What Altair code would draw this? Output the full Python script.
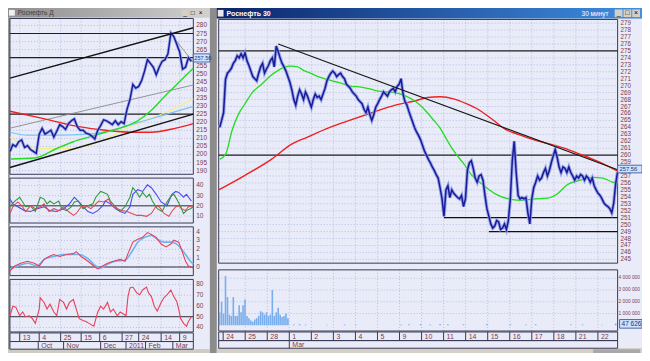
import altair as alt
import pandas as pd
import numpy as np

# ======================= DATA =======================
# ---- right window: Роснефть, 30-minute bars (bar index 0..204) ----
R_PRICE = [264.0, 265.0, 266.1, 270.9, 271.8, 272.1, 272.5, 273.2, 273.6, 274.3,
           274.0, 274.6, 274.0, 274.7, 273.6, 272.9, 272.1, 271.3, 271.0, 270.7,
           271.8, 272.7, 273.2, 271.8, 272.4, 272.9, 273.6, 274.0, 272.7, 275.7,
           274.9, 274.0, 273.2, 272.7, 272.1, 271.3, 270.5, 269.4, 268.0, 267.2,
           268.5, 269.4, 268.8, 268.0, 269.1, 268.5, 267.7, 266.9, 268.0, 268.8,
           268.3, 268.5, 268.0, 268.8, 269.6, 270.7, 271.3, 271.8, 272.1, 271.8,
           271.3, 271.6, 271.8, 271.3, 271.0, 270.2, 269.9, 269.6, 269.1, 268.8,
           268.5, 268.0, 267.7, 267.4, 266.6, 266.1, 266.9, 265.8, 265.0, 265.8,
           266.9, 267.4, 268.0, 268.5, 269.1, 268.8, 268.5, 269.1, 269.4, 269.6,
           269.1, 269.9, 270.2, 271.0, 268.8, 267.7, 267.2, 266.3, 265.5, 264.7,
           263.9, 263.3, 262.8, 262.2, 261.4, 260.6, 260.0, 259.4, 258.9, 258.3,
           257.8, 257.2, 256.7, 255.3, 253.7, 251.2, 255.0, 255.6, 253.9, 255.0,
           254.5, 254.2, 253.9, 253.7, 254.2, 252.6, 253.7, 257.8, 258.9, 259.2,
           258.1, 256.7, 256.1, 257.0, 257.2, 256.4, 254.2, 252.3, 251.2, 250.1,
           249.5, 249.8, 250.6, 250.4, 249.3, 249.5, 250.1, 249.3, 250.6, 253.7,
           259.2, 262.0, 257.5, 254.2, 253.7, 253.9, 253.7, 253.9, 251.7, 250.1,
           253.7, 255.3, 256.1, 257.0, 256.4, 256.7, 257.5, 258.1, 257.0, 257.8,
           258.9, 259.9, 260.8, 259.7, 258.3, 257.5, 258.3, 258.1, 257.5, 258.3,
           257.5, 257.0, 256.4, 257.0, 256.7, 257.2, 257.0, 256.4, 257.0, 256.7,
           256.1, 256.7, 255.6, 255.0, 254.5, 254.2, 253.7, 253.1, 252.8, 252.6,
           252.3, 251.7, 253.1, 255.9, 257.6]
R_GREEN_BAR = [0, 3, 6.5, 9.5, 13, 17, 21.5, 25.5, 30, 33.5, 36.5, 40, 43, 46.5, 50.5,
               55, 59, 63, 67.5, 72.5, 77.5, 81.5, 86.5, 91.5, 95.5, 100, 103.5, 106.5,
               109.5, 113, 116.5, 120, 125, 129, 135, 141.5, 148, 154, 161.5, 168, 173,
               178, 185, 191.5, 196.5, 201.5, 204]
R_GREEN = [259.4, 260.1, 263.7, 265.8, 267.4, 269.1, 270.2, 271.3, 272.2, 272.7, 272.8,
           272.7, 272.2, 271.8, 271.3, 270.9, 270.6, 270.3, 269.9, 269.8, 269.5, 269.2,
           269.1, 268.9, 268.5, 267.8, 267.0, 266.1, 265.1, 263.9, 262.2, 260.6, 258.8,
           257.2, 255.7, 254.4, 253.7, 253.5, 253.7, 253.8, 254.4, 255.7, 256.4, 256.8,
           256.7, 256.1, 256.0]
R_RED_BAR = [-0.5, 13, 26.5, 36.5, 45, 56.5, 66.5, 78, 90, 100, 106.5, 113, 120, 126.5,
             133, 140, 146.5, 153, 160, 168, 176.5, 185, 193, 204]
R_RED = [255.0, 257.1, 259.4, 261.5, 262.6, 264.0, 265.0, 266.1, 267.2, 267.8, 268.3,
         268.4, 268.1, 267.4, 266.5, 265.1, 263.7, 263.0, 262.3, 261.7, 261.0, 260.1,
         259.2, 257.7]
R_TREND_BAR = [30, 204]
R_TREND = [276.0, 257.9]
R_LEVELS = [275, 260]
R_SUPPORT = [251, 249]
R_SUPPORT_FROM = [115, 138]
R_SUPPORT_TO = [204, 204]
R_VOL_HEAD = [1.1, 2.0, 1.0, 4.2, 2.4, 0.9, 0.8, 2.4, 0.8, 0.8,
              1.7, 1.1, 1.7, 2.2, 0.8, 0.6, 0.4, 0.3, 0.5, 0.6,
              0.8, 1.2, 1.1, 0.9, 1.1, 0.8, 0.9, 3.0, 0.8, 1.1,
              1.5, 0.9, 0.7, 0.8, 1.0, 0.6]          # millions, bars 0..35
R_VOL_TAIL_BAR = [38, 41, 44, 55, 64, 70, 93, 97, 103, 108, 113, 117, 125, 137, 149,
                  157, 162, 180, 186, 196, 203]
R_VOL_TAIL = [0.08, 0.10, 0.06, 0.05, 0.07, 0.05, 0.06, 0.08, 0.10, 0.07, 0.12, 0.08,
              0.09, 0.10, 0.08, 0.07, 0.09, 0.06, 0.07, 0.05, 0.15]
R_DAYS = ["24", "25", "28", "1", "2", "3", "4", "5", "9", "10", "11", "14", "15", "16",
          "17", "18", "21", "22"]
R_DAY_BAR = [1.8, 13.1, 24.4, 35.7, 47.0, 58.3, 69.6, 80.9, 92.2, 103.5, 114.8, 126.1,
             137.4, 148.7, 160.0, 171.3, 182.6, 193.9]
R_MONTH = ["Mar"]
R_MONTH_BAR = [35.7]
R_YTICKS = list(range(245, 280))
R_YLABELED = [v for v in R_YTICKS if v != 258]     # 258 sits under the last-price box
R_VTICKS = [1, 2, 3, 4]
R_VLABELS = ["1 000 000", "2 000 000", "3 000 000", "4 000 000"]
LAST_PRICE = "257.56"
LAST_VOL = "47 626"

# ---- left window: daily (position = trading-day slot 0..188) ----
L_PRICE_POS = list(range(0, 189, 3))
L_PRICE = [201.9, 206.1, 204.9, 207.9, 209.0, 204.3, 205.5, 203.1, 201.9, 200.7,
           212.6, 216.2, 212.6, 213.8, 215.0, 210.8, 214.4, 218.5, 217.3, 215.6,
           219.1, 220.9, 222.1, 217.3, 215.0, 215.0, 213.2, 212.6, 211.4, 209.6,
           215.0, 217.9, 221.5, 220.9, 219.7, 218.5, 220.9, 218.5, 220.3, 219.1,
           228.0, 233.9, 243.4, 241.1, 242.2, 245.8, 251.7, 258.8, 256.5, 254.1,
           249.4, 254.1, 257.7, 258.8, 262.4, 275.4, 273.1, 268.3, 263.6, 252.9,
           254.1, 260.0, 257.7]
L_RED_POS = [0, 31, 65, 98, 125, 145, 165, 188]
L_RED = [226.8, 222.7, 217.9, 215.0, 213.8, 213.8, 215.6, 219.1]
L_YEL_POS = [0, 8, 31, 65, 98, 118, 141, 165, 188]
L_YEL = [210.8, 207.9, 203.7, 203.7, 209.6, 215.6, 221.5, 227.4, 234.5]
L_CYAN_POS = [0, 18, 48, 81, 108, 131, 155, 188]
L_CYAN = [213.8, 212.0, 212.0, 212.6, 215.6, 219.7, 223.9, 229.8]
L_GREEN_POS = [1, 25, 48, 65, 81, 98, 115, 131, 145, 158, 171, 181, 188]
L_GREEN = [197.2, 197.8, 203.7, 207.9, 210.8, 213.8, 216.8, 220.9, 227.4, 235.7, 243.4,
           249.4, 253.5]
L_CH_POS = [0, 188]
L_CH_UP = [247.3, 278.6]
L_CH_LO = [191.9, 225.0]
L_CH_MID = [216.3, 243.1]
L_PK_POS = [165, 188]
L_PK = [274.8, 257.1]
L_LEVELS = [275, 260, 225]
L_ATICKS = list(range(190, 285, 5))
L_ALABELED = [v for v in L_ATICKS if v != 260]     # 260 sits under the last-price box

B_BLUE_POS = [0, 3, 8, 15, 21, 28, 35, 41, 48, 55, 61, 66, 70, 75, 80, 85, 90, 95, 98, 103,
              108, 113, 118, 123, 126, 131, 136, 141, 145, 150, 155, 161, 166, 170, 173,
              178, 181, 186]
B_BLUE = [26.6, 21.9, 19.1, 15.3, 14.4, 17.2, 19.1, 15.3, 14.4, 17.2, 21.9, 28.4, 24.7,
          19.1, 14.4, 12.5, 15.3, 20.0, 24.7, 21.9, 17.2, 14.4, 12.5, 19.1, 31.3, 35.9,
          34.1, 40.6, 37.8, 31.3, 23.8, 20.0, 31.3, 34.1, 33.1, 28.4, 31.3, 24.7]
B_GREEN_POS = [0, 5, 10, 13, 16, 21, 26, 31, 35, 38, 41, 45, 50, 53, 58, 63, 66, 70, 75, 80,
               85, 88, 93, 96, 100, 103, 108, 113, 118, 123, 126, 130, 133, 136, 140, 143,
               146, 151, 156, 161, 165, 168, 171, 175, 178, 181, 185, 188]
B_GREEN = [19.1, 24.7, 28.4, 23.8, 19.1, 20.0, 14.4, 28.4, 26.6, 21.9, 24.7, 21.9, 24.7,
           17.2, 15.3, 19.1, 23.8, 24.7, 17.2, 20.0, 21.9, 28.4, 34.1, 33.1, 31.3, 24.7,
           19.1, 14.4, 19.1, 28.4, 37.8, 33.1, 28.4, 33.1, 28.4, 31.3, 24.7, 17.2, 14.4,
           23.8, 29.4, 31.3, 26.6, 19.1, 12.5, 15.3, 17.2, 19.1]
B_RED_POS = [0, 3, 8, 13, 16, 21, 26, 31, 35, 40, 45, 50, 55, 60, 65, 68, 73, 78, 83, 86,
             91, 96, 101, 105, 110, 115, 120, 125, 130, 135, 140, 145, 150, 153, 158, 163,
             166, 170, 173, 176, 180, 183, 188]
B_RED = [12.5, 19.1, 23.8, 19.1, 14.4, 20.0, 17.2, 19.1, 21.9, 14.4, 17.2, 15.3, 19.1,
         14.4, 10.6, 12.5, 19.1, 20.0, 17.2, 20.0, 24.7, 23.8, 26.6, 20.0, 17.2, 15.3,
         14.4, 12.5, 10.6, 10.6, 9.7, 12.5, 20.0, 19.1, 12.5, 9.7, 14.4, 19.1, 20.0, 17.2,
         15.3, 19.1, 20.0]
B_TICKS = [10, 20, 30, 40]

C_RED_POS = [0, 5, 11, 18, 25, 30, 35, 40, 45, 51, 58, 65, 68, 73, 80, 86, 90, 95, 100,
             106, 113, 118, 121, 126, 131, 136, 141, 145, 150, 155, 160, 165, 168, 173,
             176, 180, 183, 188]
C_RED = [-0.43, 0.11, 0.43, 0.65, 0.43, 0.11, 0.86, 1.19, 1.41, 1.19, 1.41, 1.51, 1.73,
         1.19, 0.65, 0.11, -0.22, 0.11, 0.43, 0.65, 0.86, 0.65, 1.51, 2.81, 3.14, 3.35,
         3.89, 3.68, 3.35, 2.59, 2.27, 2.59, 3.03, 2.81, 1.95, 0.65, 0.11, -0.11]
C_BLUE_POS = [0, 8, 18, 28, 35, 45, 55, 65, 71, 81, 88, 93, 100, 108, 118, 125, 131, 138,
              145, 151, 158, 165, 171, 178, 185, 188]
C_BLUE = [-0.22, 0.11, 0.43, 0.11, 0.86, 1.19, 1.41, 1.41, 1.41, 0.86, 0.11, -0.11, 0.32,
          0.65, 0.76, 1.73, 2.81, 3.35, 3.57, 3.14, 2.81, 2.81, 2.59, 1.73, 0.65, 0.32]
C_TICKS = [0, 1, 2, 3, 4]

D_RED_POS = [0, 3, 6, 10, 13, 16, 20, 23, 26, 30, 31, 35, 38, 41, 45, 48, 51, 55, 58, 61,
             65, 68, 71, 75, 78, 81, 86, 90, 93, 96, 100, 103, 106, 110, 113, 116, 119,
             121, 123, 126, 130, 133, 136, 140, 142, 145, 148, 151, 155, 158, 161, 165,
             168, 171, 173, 175, 178, 181, 183, 186]
D_RED = [50.9, 59.8, 58.9, 50.9, 54.4, 50.0, 50.9, 48.2, 43.8, 57.1,
         67.8, 63.3, 57.1, 61.6, 54.4, 50.9, 66.0, 63.3, 57.1, 63.3,
         66.0, 57.1, 48.2, 46.4, 45.6, 43.8, 41.1, 54.4, 59.8, 57.1,
         63.3, 54.4, 57.1, 50.9, 54.4, 52.7, 50.9, 68.7, 76.7, 77.6,
         72.2, 70.4, 74.9, 77.6, 72.2, 68.7, 59.8, 55.3, 63.3, 67.8,
         70.4, 74.9, 68.7, 64.2, 57.1, 48.2, 43.8, 41.1, 45.6, 50.0]
D_TICKS = [40, 50, 60, 70, 80]

L_DAYS = ["13", "4", "25", "15", "6", "27", "24", "14", "9"]
L_DAY_POS = [10, 30, 52, 73, 92, 115, 132, 155, 174]
L_MONTHS = ["Oct", "Nov", "Dec", "2011", "Feb", "Mar"]
L_MONTH_POS = [29, 55, 93, 119, 139, 167]

# ======================= LAYOUT =======================
W, H = 634, 345
SX, SY = W / 650.0, H / 361.0
def px(x): return round(x * SX, 2)
def py(y): return round(y * SY, 2)

FONT = "Liberation Sans"
LBL = "#7a3b52"
GRID = "#a7b3df"
FRAME = "#3a3a58"
PALE = "#e9ecf8"

def sc(domain, a, b):
    return alt.Scale(domain=domain, range=[a, b], nice=False, zero=False)

RX = sc([-0.5, 204], px(216), px(625))
RY = sc([244, 279.5], py(270.3), py(12.2))
VY = sc([0, 4.7], py(332), py(274.2))
LX = sc([0, 188], px(2), px(190))
AY = sc([188.3, 284.9], py(173), py(10))
BY = sc([3.1, 47.2], py(225), py(178))
CY = sc([-0.97, 4.54], py(280), py(229))
DY = sc([35.8, 84.7], py(339), py(284))

layers = []

def rects(rows, frame=False, sw=1):
    df = pd.DataFrame(rows, columns=["x", "x2", "y", "y2", "c"])
    for k in ("x", "x2"):
        df[k] = df[k].map(px)
    for k in ("y", "y2"):
        df[k] = df[k].map(py)
    enc = dict(x=alt.X("x:Q", scale=None, axis=None), x2="x2:Q",
               y=alt.Y("y:Q", scale=None, axis=None), y2="y2:Q")
    if frame:
        return alt.Chart(df).mark_rect(fillOpacity=0, strokeWidth=sw).encode(
            stroke=alt.Stroke("c:N", scale=None, legend=None), **enc)
    return alt.Chart(df).mark_rect().encode(
        color=alt.Color("c:N", scale=None, legend=None), **enc)

def line(pos, vals, xs, ys, **mk):
    df = pd.DataFrame({"b": pos, "v": vals})
    return alt.Chart(df).mark_line(**mk).encode(
        x=alt.X("b:Q", scale=xs, axis=None), y=alt.Y("v:Q", scale=ys, axis=None))

def hrule(vals, ys, x0, x1, **mk):
    df = pd.DataFrame({"v": vals})
    return alt.Chart(df).mark_rule(**mk).encode(
        y=alt.Y("v:Q", scale=ys, axis=None), x=alt.value(px(x0)), x2=alt.value(px(x1)))

def vrule(pos, xs, y0, y1, **mk):
    df = pd.DataFrame({"b": pos})
    return alt.Chart(df).mark_rule(**mk).encode(
        x=alt.X("b:Q", scale=xs, axis=None), y=alt.value(py(y0)), y2=alt.value(py(y1)))

def ylabels(vals, texts, ys, x0, size=7, color=LBL):
    df = pd.DataFrame({"v": vals, "t": texts})
    return alt.Chart(df).mark_text(align="left", baseline="middle", font=FONT,
                                   fontSize=size, color=color).encode(
        y=alt.Y("v:Q", scale=ys, axis=None), x=alt.value(px(x0)), text="t:N")

def xlabels(pos, texts, xs, y0, size=7, color=LBL, dx=3):
    df = pd.DataFrame({"b": pos, "t": texts})
    return alt.Chart(df).mark_text(align="left", baseline="middle", font=FONT,
                                   fontSize=size, color=color, dx=dx).encode(
        x=alt.X("b:Q", scale=xs, axis=None), y=alt.value(py(y0)), text="t:N")

def txt(x, y, s, **mk):
    return alt.Chart(pd.DataFrame({"t": [s]})).mark_text(**mk).encode(
        x=alt.value(px(x)), y=alt.value(py(y)), text="t:N")

def grad(x0, x1, y0, y1, c0, c1):
    g = {"gradient": "linear", "x1": 0, "x2": 1, "y1": 0, "y2": 0,
         "stops": [{"offset": 0, "color": c0}, {"offset": 1, "color": c1}]}
    return alt.Chart(pd.DataFrame({"a": [0]})).mark_rect(color=g).encode(
        x=alt.value(px(x0)), x2=alt.value(px(x1)), y=alt.value(py(y0)), y2=alt.value(py(y1)))

# ---- backgrounds ----
layers.append(rects([
    (0, 650, 0, 361, "#d4d0c8"),
    (0, 207, 10, 357, PALE),
    (214, 650, 11, 356, PALE),
    (207, 214, 0, 361, "#8c8c8c"),
    (0, 207, 357, 361, "#cfcbc3"),
    (214, 650, 356, 361, "#d4d0c8"),
    (600, 648, 357, 361, "#a8a8a8"),
    (0, 2, 10, 357, "#9a9a9a"),
]))

# ---- grids ----
gk = dict(color=GRID, strokeWidth=0.8, strokeDash=[1, 2])
layers += [
    hrule(R_YTICKS, RY, 216, 625, **gk),
    vrule(R_DAY_BAR[1:], RX, 12, 267, **gk),
    hrule(R_VTICKS, VY, 216, 625, **gk),
    vrule(R_DAY_BAR[1:], RX, 274, 338, **gk),
    hrule(L_ATICKS, AY, 2, 190, **gk),
    vrule(L_DAY_POS, LX, 11, 174, **gk),
    hrule(B_TICKS, BY, 2, 190, **gk),
    vrule(L_DAY_POS, LX, 178, 225, **gk),
    hrule(C_TICKS, CY, 2, 190, **gk),
    vrule(L_DAY_POS, LX, 229, 280, **gk),
    hrule(D_TICKS, DY, 2, 190, **gk),
    vrule(L_DAY_POS, LX, 284, 339, **gk),
]

# ---- frames ----
layers.append(rects([
    (2, 190, 11, 174, FRAME), (2, 190, 178, 225, FRAME), (2, 190, 229, 280, FRAME),
    (2, 190, 284, 339, FRAME), (2, 190, 340, 349, FRAME), (2, 190, 349, 357, FRAME),
    (216, 625, 12, 267, FRAME), (216, 625, 274, 338, FRAME),
    (216, 625, 339, 348, FRAME), (216, 625, 348, 356, FRAME),
], frame=True))

# ---- right main chart ----
layers += [
    hrule(R_LEVELS, RY, 216, 625, color="#202020", strokeWidth=1.2),
    alt.Chart(pd.DataFrame({"a": R_SUPPORT_FROM, "b": R_SUPPORT_TO, "v": R_SUPPORT}))
       .mark_rule(color="#101010", strokeWidth=1.2).encode(
        x=alt.X("a:Q", scale=RX, axis=None), x2="b:Q", y=alt.Y("v:Q", scale=RY, axis=None)),
    line(R_RED_BAR, R_RED, RX, RY, color="#ee2020", strokeWidth=1.4, interpolate="monotone"),
    line(R_GREEN_BAR, R_GREEN, RX, RY, color="#22dd22", strokeWidth=1.3, interpolate="monotone"),
    line(list(range(len(R_PRICE))), R_PRICE, RX, RY, color="#8a9ae6", strokeWidth=3.4, opacity=0.85),
    line(list(range(len(R_PRICE))), R_PRICE, RX, RY, color="#1a1a96", strokeWidth=1.5),
    line(R_TREND_BAR, R_TREND, RX, RY, color="#181818", strokeWidth=1.2),
]
vol = pd.DataFrame({"b": list(range(len(R_VOL_HEAD))) + R_VOL_TAIL_BAR,
                    "v": R_VOL_HEAD + R_VOL_TAIL})
vol["z"] = 0.0
layers.append(alt.Chart(vol).mark_rule(color="#78aeee", strokeWidth=1.6).encode(
    x=alt.X("b:Q", scale=RX, axis=None), y=alt.Y("v:Q", scale=VY, axis=None), y2="z:Q"))

# ---- left charts ----
layers += [
    hrule(L_LEVELS, AY, 2, 190, color="#202020", strokeWidth=1.2),
    line(L_CH_POS, L_CH_MID, LX, AY, color="#8a8a8a", strokeWidth=0.9),
    line(L_PK_POS, L_PK, LX, AY, color="#8a8a8a", strokeWidth=0.9),
    line(L_YEL_POS, L_YEL, LX, AY, color="#f2ee86", strokeWidth=1.1, interpolate="monotone"),
    line(L_CYAN_POS, L_CYAN, LX, AY, color="#7cc0f4", strokeWidth=1.2, interpolate="monotone"),
    line(L_RED_POS, L_RED, LX, AY, color="#ee2020", strokeWidth=1.4, interpolate="monotone"),
    line(L_GREEN_POS, L_GREEN, LX, AY, color="#22dd22", strokeWidth=1.4, interpolate="monotone"),
    line(L_PRICE_POS, L_PRICE, LX, AY, color="#8a9ae6", strokeWidth=3.0, opacity=0.85),
    line(L_PRICE_POS, L_PRICE, LX, AY, color="#1a1a96", strokeWidth=1.4),
    line(L_CH_POS, L_CH_UP, LX, AY, color="#141414", strokeWidth=1.4),
    line(L_CH_POS, L_CH_LO, LX, AY, color="#141414", strokeWidth=1.4),
    hrule([20], BY, 2, 190, color="#303040", strokeWidth=1),
    line(B_BLUE_POS, B_BLUE, LX, BY, color="#4a4aee", strokeWidth=1.1),
    line(B_GREEN_POS, B_GREEN, LX, BY, color="#2e9a3e", strokeWidth=1.1),
    line(B_RED_POS, B_RED, LX, BY, color="#e04a5a", strokeWidth=1.1),
    hrule([0], CY, 2, 190, color="#303040", strokeWidth=1),
    line(C_BLUE_POS, C_BLUE, LX, CY, color="#6cb4f4", strokeWidth=1.6, interpolate="monotone"),
    line(C_RED_POS, C_RED, LX, CY, color="#e8405a", strokeWidth=1.1),
    hrule([50], DY, 2, 190, color="#303040", strokeWidth=1),
    line(D_RED_POS, D_RED, LX, DY, color="#e8405a", strokeWidth=1.1),
]

# ---- axis labels ----
layers += [
    ylabels(R_YLABELED, [str(v) for v in R_YLABELED], RY, 628, size=6.3),
    ylabels(R_VTICKS, R_VLABELS, VY, 626, size=4.8),
    ylabels(L_ALABELED, [str(v) for v in L_ALABELED], AY, 193, size=6.5),
    ylabels(B_TICKS, [str(v) for v in B_TICKS], BY, 193, size=6.5),
    ylabels(C_TICKS, [str(v) for v in C_TICKS], CY, 193, size=6.5),
    ylabels(D_TICKS, [str(v) for v in D_TICKS], DY, 193, size=6.5),
    vrule(R_DAY_BAR, RX, 339, 348, color=FRAME, strokeWidth=1),
    vrule(R_MONTH_BAR, RX, 348, 356, color=FRAME, strokeWidth=1),
    xlabels(R_DAY_BAR, R_DAYS, RX, 344),
    xlabels(R_MONTH_BAR, R_MONTH, RX, 352.5),
    vrule(L_DAY_POS, LX, 340, 349, color=FRAME, strokeWidth=1),
    vrule(L_MONTH_POS, LX, 349, 357, color=FRAME, strokeWidth=1),
    xlabels(L_DAY_POS, L_DAYS, LX, 345),
    xlabels(L_MONTH_POS, L_MONTHS, LX, 353.5),
]

# ---- last value boxes ----
layers.append(rects([(625, 650, 164.5, 172.5, "#cfe2ff"), (190, 207, 48, 56.5, "#cfe2ff"),
                     (627, 650, 326, 335, "#cfe2ff")]))
layers.append(rects([(625, 650, 164.5, 172.5, "#4a6aa8"), (190, 207, 48, 56.5, "#4a6aa8"),
                     (627, 650, 326, 335, "#4a6aa8")], frame=True))
layers += [
    txt(627, 168.5, LAST_PRICE, align="left", baseline="middle", font=FONT, fontSize=5.8, color="#20307a"),
    txt(191, 52.3, LAST_PRICE, align="left", baseline="middle", font=FONT, fontSize=5.6, color="#20307a"),
    txt(629, 330.5, LAST_VOL, align="left", baseline="middle", font=FONT, fontSize=6.5, color="#20307a"),
]

# ---- title bars ----
layers += [
    grad(214, 650, 0, 11, "#0a246a", "#3f8ee0"),
    grad(0, 207, 0, 10, "#8e8e8e", "#d0d0d0"),
    rects([(215, 221, 2, 9, "#e8e8e8"), (1, 7, 2, 8, "#f0f0f0"),
           (622, 630, 1.5, 9.5, "#d4d0c8"), (631, 639, 1.5, 9.5, "#d4d0c8"),
           (640, 648, 1.5, 9.5, "#d4d0c8"),
           (178, 185, 1.5, 8.5, "#d4d0c8"), (186, 193, 1.5, 8.5, "#d4d0c8"),
           (194, 201, 1.5, 8.5, "#d4d0c8")]),
    txt(224, 5.8, "Роснефть     30", align="left", baseline="middle", font=FONT,
        fontSize=7, fontWeight="bold", color="#ffffff"),
    txt(588, 5.8, "30 минут", align="left", baseline="middle", font=FONT,
        fontSize=6.5, color="#ffffff"),
    txt(10, 5.3, "Роснефть     Д", align="left", baseline="middle", font=FONT,
        fontSize=6.5, color="#404040"),
    txt(626, 5.5, "_", align="center", baseline="middle", font=FONT, fontSize=7, color="#000000"),
    txt(635, 5.5, "□", align="center", baseline="middle", font=FONT, fontSize=7, color="#000000"),
    txt(644, 5.5, "×", align="center", baseline="middle", font=FONT, fontSize=7, color="#000000"),
    txt(181.5, 5, "_", align="center", baseline="middle", font=FONT, fontSize=6.5, color="#000000"),
    txt(189.5, 5, "□", align="center", baseline="middle", font=FONT, fontSize=6.5, color="#000000"),
    txt(197.5, 5, "×", align="center", baseline="middle", font=FONT, fontSize=6.5, color="#000000"),
]

chart = alt.layer(*layers).resolve_scale(
    x="independent", y="independent", color="independent", stroke="independent"
).properties(
    width=W, height=H, padding=0, autosize=alt.AutoSizeParams(type="none")
).configure_view(strokeWidth=0)

chart.save("out.html", embed_options={"renderer": "svg", "actions": False})
